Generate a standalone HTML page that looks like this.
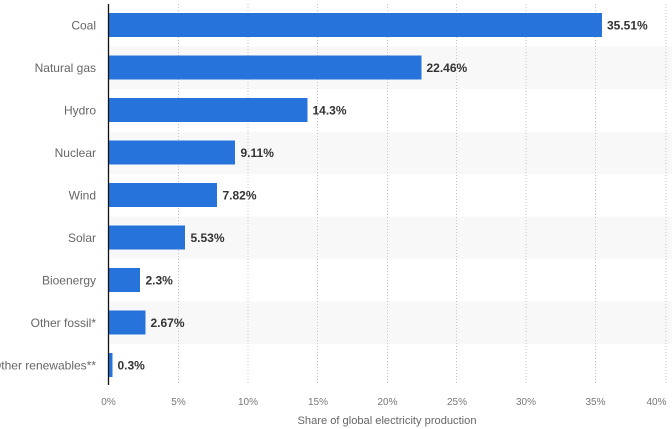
<!DOCTYPE html>
<html>
<head>
<meta charset="utf-8">
<style>
  html,body{margin:0;padding:0;background:#fff;}
  svg{display:block;}
  text{font-family:"Liberation Sans","DejaVu Sans",sans-serif;}
</style>
</head>
<body>
<svg width="672" height="429" viewBox="0 0 672 429" xmlns="http://www.w3.org/2000/svg">
  <rect x="0" y="0" width="672" height="429" fill="#fff"/>
  <!-- alternating bands -->
  <g fill="#f8f8f8">
    <rect x="109" y="46.5" width="563" height="42.5"/>
    <rect x="109" y="131.5" width="563" height="42.5"/>
    <rect x="109" y="216.5" width="563" height="42.5"/>
    <rect x="109" y="301.5" width="563" height="42.5"/>
  </g>
  <!-- gridlines -->
  <g stroke="#c4c4c4" stroke-width="1" stroke-dasharray="1 2">
    <line x1="178.5" y1="4" x2="178.5" y2="385"/>
    <line x1="248" y1="4" x2="248" y2="385"/>
    <line x1="317.5" y1="4" x2="317.5" y2="385"/>
    <line x1="387.5" y1="4" x2="387.5" y2="385"/>
    <line x1="456.5" y1="4" x2="456.5" y2="385"/>
    <line x1="526" y1="4" x2="526" y2="385"/>
    <line x1="595.5" y1="4" x2="595.5" y2="385"/>
    <line x1="666" y1="4" x2="666" y2="385"/>
  </g>
  <!-- bars -->
  <g fill="#2674db">
    <rect x="109" y="13" width="493" height="24"/>
    <rect x="109" y="55.5" width="312.5" height="24"/>
    <rect x="109" y="98" width="198.5" height="24"/>
    <rect x="109" y="140.5" width="126" height="24"/>
    <rect x="109" y="183" width="108" height="24"/>
    <rect x="109" y="225.5" width="76" height="24"/>
    <rect x="109" y="268" width="31" height="24"/>
    <rect x="109" y="310.5" width="36.5" height="24"/>
    <rect x="109" y="353" width="3.5" height="24"/>
  </g>
  <!-- axis line -->
  <line x1="108.5" y1="4" x2="108.5" y2="385" stroke="#111" stroke-width="1.3"/>
  <!-- category labels -->
  <g font-size="12" fill="#666" text-anchor="end">
    <text x="96" y="29.5">Coal</text>
    <text x="96" y="72">Natural gas</text>
    <text x="96" y="114.5">Hydro</text>
    <text x="96" y="157">Nuclear</text>
    <text x="96" y="199.5">Wind</text>
    <text x="96" y="242">Solar</text>
    <text x="96" y="284.5">Bioenergy</text>
    <text x="96" y="327">Other fossil*</text>
    <text x="96" y="369.5">Other renewables**</text>
  </g>
  <!-- value labels -->
  <g font-size="12" font-weight="bold" fill="#333">
    <text x="607" y="29.5">35.51%</text>
    <text x="426.5" y="72">22.46%</text>
    <text x="312.5" y="114.5">14.3%</text>
    <text x="240.5" y="157">9.11%</text>
    <text x="222.5" y="199.5">7.82%</text>
    <text x="190.5" y="242">5.53%</text>
    <text x="145.5" y="284.5">2.3%</text>
    <text x="150.5" y="327">2.67%</text>
    <text x="117.5" y="369.5">0.3%</text>
  </g>
  <!-- tick labels -->
  <g font-size="10" fill="#777" text-anchor="middle">
    <text x="108.5" y="405">0%</text>
    <text x="178.5" y="405">5%</text>
    <text x="248" y="405">10%</text>
    <text x="318" y="405">15%</text>
    <text x="387.5" y="405">20%</text>
    <text x="457" y="405">25%</text>
    <text x="526" y="405">30%</text>
    <text x="595.5" y="405">35%</text>
    <text x="666.5" y="405" text-anchor="end">40%</text>
  </g>
  <!-- axis title -->
  <text x="387" y="424" font-size="11" fill="#666" text-anchor="middle" textLength="179" lengthAdjust="spacingAndGlyphs">Share of global electricity production</text>
</svg>
</body>
</html>
